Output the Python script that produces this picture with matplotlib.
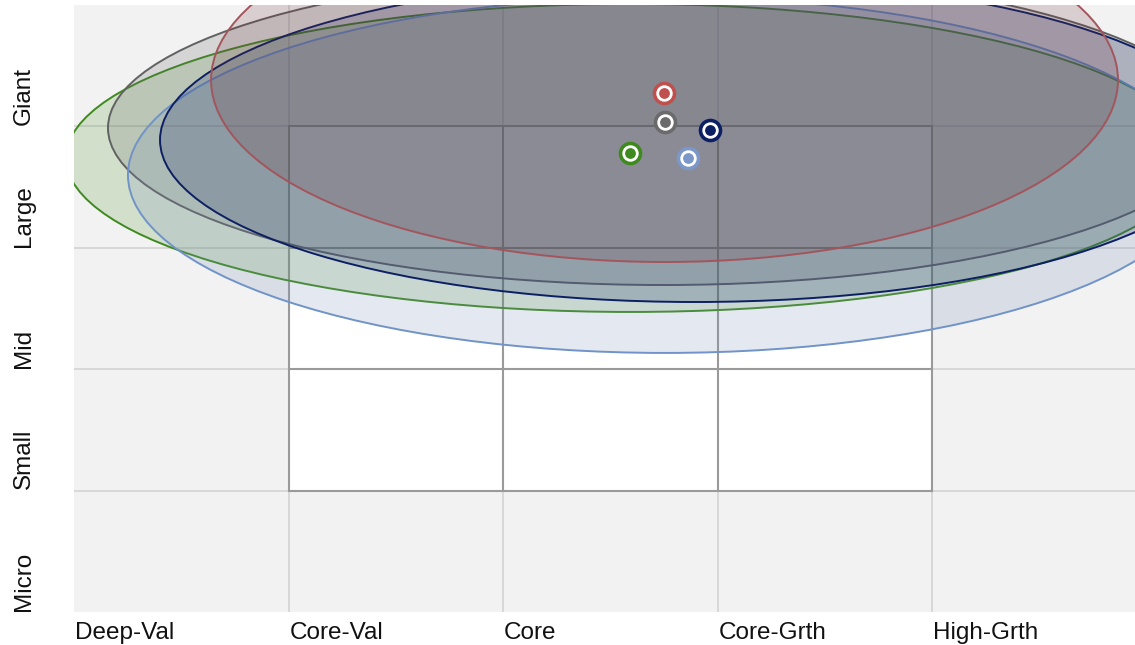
import matplotlib
matplotlib.use('Agg')
import matplotlib.pyplot as plt
from matplotlib.patches import Ellipse, Rectangle

plt.rcParams['font.family'] = ['Liberation Sans', 'DejaVu Sans']

# style box axes
col_labels = ['Deep-Val', 'Core-Val', 'Core', 'Core-Grth', 'High-Grth']
row_labels = ['Micro', 'Small', 'Mid', 'Large', 'Giant']

# series (drawing order), centroid points and spread ellipses
series_colors = ['#3f8a1f', '#6b6b6b', '#7b98c9', '#0d1f63', '#c0504d']
edge_colors = ['#3f8a1f', '#616161', '#7093c8', '#0d1f63', '#a3555c']
fill_colors = ['#3f8a1f', '#646464', '#7890b8', '#0d1f5f', '#703038']
fill_alpha = [0.18, 0.2, 0.2, 0.2, 0.18]

point_x = [2.592, 2.755, 2.862, 2.965, 2.751]
point_y = [3.78, 4.036, 3.74, 3.97, 4.275]

ell_cx = [2.592, 2.746, 2.755, 2.895, 2.753]
ell_cy = [3.74, 3.987, 3.60, 3.888, 4.382]
ell_w = [5.259, 5.175, 5.007, 4.988, 4.228]
ell_h = [2.537, 2.587, 2.932, 2.669, 2.998]

fig = plt.figure(figsize=(11.35, 6.45), dpi=100)
# last column runs past the right edge of the picture
ax = fig.add_axes([74 / 1135, 33 / 645, 1072.5 / 1135, 607 / 645])
ax.set_facecolor('#f2f2f2')
ax.set_xlim(0, 5)
ax.set_ylim(0, 5)
for s in ax.spines.values():
    s.set_visible(False)
ax.set_xticks([])
ax.set_yticks([])

# background grid
for v in range(1, 5):
    ax.axvline(v, color='#d6d6d6', lw=1.3, zorder=1)
    ax.axhline(v, color='#d6d6d6', lw=1.3, zorder=1)

# white 3x3 box
ax.add_patch(Rectangle((1, 1), 3, 3, facecolor='white', edgecolor='none', zorder=2))
for v in range(1, 5):
    ax.plot([v, v], [1, 4], color='#9a9a9a', lw=1.5, zorder=3)
    ax.plot([1, 4], [v, v], color='#9a9a9a', lw=1.5, zorder=3)

# ellipses
for i in range(len(ell_cx)):
    e = Ellipse((ell_cx[i], ell_cy[i]), ell_w[i], ell_h[i],
                facecolor=fill_colors[i], alpha=fill_alpha[i], edgecolor='none', zorder=4 + i)
    ax.add_patch(e)
    e2 = Ellipse((ell_cx[i], ell_cy[i]), ell_w[i], ell_h[i],
                 facecolor='none', edgecolor=edge_colors[i], lw=1.4, zorder=4 + i)
    ax.add_patch(e2)

# centroid markers
for i in range(len(point_x)):
    ax.plot(point_x[i], point_y[i], 'o', ms=17, color=series_colors[i], mec='none', zorder=20)
    ax.plot(point_x[i], point_y[i], 'o', ms=9.8, color=series_colors[i], mec='white', mew=2.0, zorder=21)

# axis labels
for j, lab in enumerate(col_labels):
    ax.text(j + 0.005, -0.085, lab, ha='left', va='top', fontsize=17.5, color='#111111',
            clip_on=False)
for j, lab in enumerate(row_labels):
    ax.text(-0.235, j + 0.01, lab, ha='center', va='bottom', rotation=90, fontsize=17.5,
            color='#111111', clip_on=False)

fig.savefig('out.png', dpi=100, facecolor='white')
